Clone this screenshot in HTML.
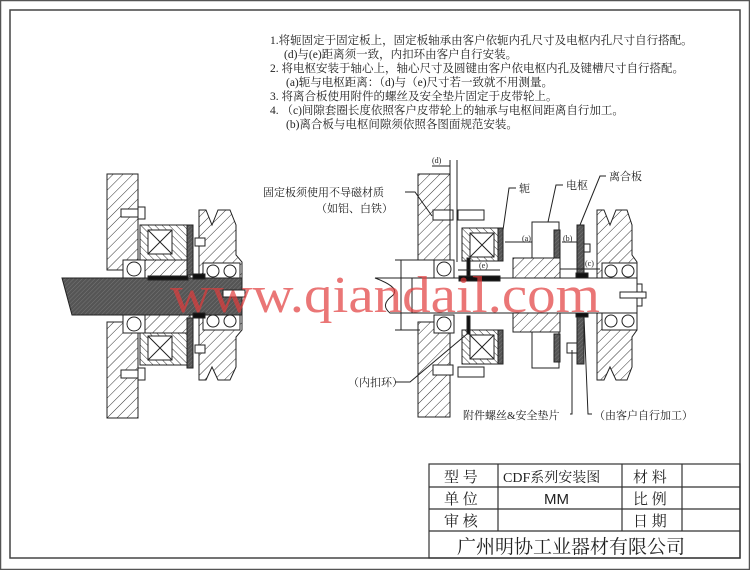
<!DOCTYPE html>
<html><head><meta charset="utf-8"><style>
html,body{margin:0;padding:0;background:#fff;}
svg{display:block}
text{font-family:"Liberation Serif","Noto Serif CJK SC","Noto Sans CJK SC",serif;fill:#222}
</style></head><body>
<svg width="750" height="570" viewBox="0 0 750 570" xmlns="http://www.w3.org/2000/svg">
<defs>
<pattern id="h" width="7" height="7" patternUnits="userSpaceOnUse" patternTransform="rotate(45)">
<rect width="7" height="7" fill="#fff"/><line x1="0" y1="0" x2="0" y2="7" stroke="#333" stroke-width="1"/></pattern>
<pattern id="h2" width="5" height="5" patternUnits="userSpaceOnUse" patternTransform="rotate(-45)">
<rect width="5" height="5" fill="#fff"/><line x1="0" y1="0" x2="0" y2="5" stroke="#333" stroke-width="1"/></pattern>
<pattern id="hd" width="3" height="3" patternUnits="userSpaceOnUse" patternTransform="rotate(45)">
<rect width="3" height="3" fill="#555"/><line x1="0" y1="0" x2="0" y2="3" stroke="#777" stroke-width="1"/></pattern>
</defs>
<rect x="0.5" y="0.5" width="749" height="569" fill="none" stroke="#555" stroke-width="1.5"/>
<rect x="10" y="10" width="730" height="548" fill="none" stroke="#444" stroke-width="1.5"/>

<!-- notes -->
<g font-size="11.5">
<text x="270" y="44">1.将轭固定于固定板上，固定板轴承由客户依轭内孔尺寸及电枢内孔尺寸自行搭配。</text>
<text x="284" y="58">(d)与(e)距离须一致，内扣环由客户自行安装。</text>
<text x="270" y="72">2. 将电枢安装于轴心上，轴心尺寸及圆键由客户依电枢内孔及键槽尺寸自行搭配。</text>
<text x="286" y="86">(a)轭与电枢距离：（d)与（e)尺寸若一致就不用测量。</text>
<text x="270" y="100">3. 将离合板使用附件的螺丝及安全垫片固定于皮带轮上。</text>
<text x="270" y="114">4. （c)间隙套圈长度依照客户皮带轮上的轴承与电枢间距离自行加工。</text>
<text x="286" y="128">(b)离合板与电枢间隙须依照各图面规范安装。</text>
</g>

<g stroke="#222" stroke-width="1">
<!-- LEFT DRAWING -->
<rect x="107" y="174" width="31" height="96" fill="url(#h)"/>
<rect x="107" y="322" width="31" height="96" fill="url(#h)"/>
<rect x="121" y="209" width="22" height="8" fill="#fff"/><rect x="138" y="207" width="7" height="12" fill="#fff"/>
<rect x="121" y="370" width="22" height="8" fill="#fff"/><rect x="138" y="368" width="7" height="12" fill="#fff"/>
<rect x="140" y="225" width="50" height="35" fill="url(#h2)"/>
<rect x="148" y="230" width="24" height="24" fill="#fff"/><path d="M148 230L172 254M172 230L148 254" fill="none"/>
<rect x="140" y="330" width="50" height="35" fill="url(#h2)"/>
<rect x="148" y="336" width="24" height="24" fill="#fff"/><path d="M148 336L172 360M172 336L148 360" fill="none"/>
<rect x="145" y="260" width="45" height="18" fill="url(#h)"/>
<rect x="145" y="315" width="45" height="18" fill="url(#h)"/>
<rect x="123" y="260" width="22" height="18" fill="#fff"/><circle cx="134" cy="269" r="7" fill="#fff"/>
<rect x="123" y="315" width="22" height="18" fill="#fff"/><circle cx="134" cy="324" r="7" fill="#fff"/>
<rect x="187" y="225" width="6" height="50" fill="url(#hd)"/>
<rect x="187" y="318" width="6" height="50" fill="url(#hd)"/>
<path d="M199 210 L206 210 L212 225 L218 210 L230 210 L236 225 L236 255 L242 262 L242 330 L236 337 L236 367 L230 380 L218 380 L212 367 L206 380 L199 380 Z" fill="url(#h)"/>
<rect x="203" y="263" width="37" height="17" fill="#fff"/><circle cx="213" cy="271" r="6" fill="#fff"/><circle cx="230" cy="271" r="6" fill="#fff"/>
<rect x="203" y="313" width="37" height="17" fill="#fff"/><circle cx="213" cy="321" r="6" fill="#fff"/><circle cx="230" cy="321" r="6" fill="#fff"/>
<rect x="195" y="238" width="10" height="8" fill="#fff"/><rect x="195" y="345" width="10" height="8" fill="#fff"/>
<path d="M62 278 L242 278 L242 315 L72 315 Z" fill="url(#hd)"/>
<rect x="148" y="276" width="40" height="4" fill="#111"/>
<rect x="193" y="274" width="12" height="5" fill="#111"/><rect x="193" y="313" width="12" height="5" fill="#111"/>
<rect x="223" y="290" width="22" height="7" fill="#fff"/>

<!-- RIGHT DRAWING -->
<rect x="418" y="174" width="32" height="86" fill="url(#h)"/>
<rect x="418" y="322" width="32" height="95" fill="url(#h)"/>
<rect x="433" y="210" width="20" height="10" fill="#fff"/>
<rect x="433" y="365" width="20" height="10" fill="#fff"/>
<line x1="450" y1="160" x2="450" y2="258" /><line x1="457" y1="160" x2="457" y2="262"/>
<rect x="434" y="260" width="20" height="18" fill="#fff"/><circle cx="444" cy="269" r="7" fill="#fff"/>
<rect x="434" y="315" width="20" height="18" fill="#fff"/><circle cx="444" cy="324" r="7" fill="#fff"/>
<rect x="458" y="210" width="26" height="10" fill="#fff"/><rect x="458" y="367" width="26" height="10" fill="#fff"/>
<rect x="462" y="228" width="41" height="33" fill="url(#h2)"/>
<rect x="470" y="233" width="24" height="24" fill="#fff"/><path d="M470 233L494 257M494 233L470 257" fill="none"/>
<rect x="498" y="228" width="5" height="33" fill="url(#hd)"/>
<rect x="462" y="330" width="41" height="34" fill="url(#h2)"/>
<rect x="470" y="335" width="24" height="24" fill="#fff"/><path d="M470 335L494 359M494 335L470 359" fill="none"/>
<rect x="498" y="330" width="5" height="34" fill="url(#hd)"/>
<rect x="467" y="258" width="3" height="18" fill="#111"/><rect x="467" y="316" width="3" height="18" fill="#111"/>
<rect x="532" y="222" width="27" height="40" fill="#fff"/>
<rect x="513" y="258" width="47" height="20" fill="url(#h)"/>
<rect x="532" y="330" width="27" height="38" fill="#fff"/>
<rect x="513" y="312" width="47" height="20" fill="url(#h)"/>
<rect x="554" y="230" width="6" height="28" fill="url(#hd)"/><rect x="554" y="334" width="6" height="28" fill="url(#hd)"/>
<rect x="577" y="225" width="7" height="52" fill="url(#hd)"/>
<rect x="577" y="314" width="7" height="50" fill="url(#hd)"/>
<rect x="576" y="273" width="12" height="6" fill="#111"/><rect x="576" y="311" width="12" height="6" fill="#111"/>
<rect x="567" y="343" width="10" height="10" fill="#fff"/><rect x="584" y="244" width="6" height="8" fill="#fff"/>
<path d="M597 210 L604 210 L610 225 L616 210 L627 210 L632 225 L632 255 L637 262 L637 330 L632 337 L632 367 L627 380 L616 380 L610 367 L604 380 L597 380 Z" fill="url(#h)"/>
<rect x="602" y="263" width="35" height="17" fill="#fff"/><circle cx="611" cy="271" r="6" fill="#fff"/><circle cx="628" cy="271" r="6" fill="#fff"/>
<rect x="602" y="313" width="35" height="17" fill="#fff"/><circle cx="611" cy="321" r="6" fill="#fff"/><circle cx="628" cy="321" r="6" fill="#fff"/>
<path d="M375 278 L637 278 L637 313 L390 313 Q380 305 392 296 Q402 288 375 278 Z" fill="#fff"/>
<rect x="459" y="276" width="41" height="5" fill="#111"/>
<rect x="637" y="284" width="5" height="22" fill="#fff"/><rect x="620" y="292" width="26" height="6" fill="#fff"/>
<!-- dims -->
<line x1="401" y1="260" x2="401" y2="330"/><line x1="412" y1="278" x2="412" y2="313"/>
<line x1="395" y1="260" x2="420" y2="260"/><line x1="395" y1="330" x2="420" y2="330"/>
<line x1="505" y1="242" x2="532" y2="242"/><line x1="562" y1="242" x2="577" y2="242"/>
<line x1="560" y1="269" x2="600" y2="269"/><line x1="458" y1="270" x2="500" y2="270"/>
<line x1="432" y1="166" x2="450" y2="166"/>
<!-- leaders -->
<path d="M405 192 L415 192 L432 216" fill="none"/>
<path d="M516 188 L509 188 L503 230" fill="none"/>
<path d="M563 185 L556 185 L548 222" fill="none"/>
<path d="M606 176 L600 176 L580 225" fill="none"/>
<path d="M395 382 L410 382 L467 334" fill="none"/>
<path d="M570 414 L572 414 L572 350" fill="none"/>
<path d="M592 414 L588 414 L584 317" fill="none"/>
</g>
<g font-size="11">
<text x="263" y="196">固定板须使用不导磁材质</text>
<text x="316" y="212">（如铝、白铁）</text>
<text x="519" y="192">轭</text>
<text x="566" y="189">电枢</text>
<text x="609" y="180">离合板</text>
<text x="348" y="386">（内扣环）</text>
<text x="463" y="419">附件螺丝&amp;安全垫片</text>
<text x="594" y="419">（由客户自行加工）</text>
</g>
<g font-size="8" style="font-family:'Liberation Sans',sans-serif">
<text x="432" y="163">(d)</text><text x="522" y="241">(a)</text><text x="563" y="241">(b)</text>
<text x="585" y="266">(c)</text><text x="479" y="268">(e)</text>
</g>

<!-- watermark -->
<text x="170" y="312" font-size="52" textLength="430" lengthAdjust="spacingAndGlyphs" style="fill:rgba(225,60,60,0.7)">www.qiandail.com</text>

<!-- title block -->
<g stroke="#333" stroke-width="1.2" fill="none">
<rect x="429" y="464" width="311" height="94"/>
<line x1="429" y1="487" x2="740" y2="487"/><line x1="429" y1="509" x2="740" y2="509"/><line x1="429" y1="531" x2="740" y2="531"/>
<line x1="498" y1="464" x2="498" y2="531"/><line x1="622" y1="464" x2="622" y2="531"/><line x1="682" y1="464" x2="682" y2="531"/>
</g>
<g font-size="15">
<text x="444" y="482">型 号</text><text x="444" y="504">单 位</text><text x="444" y="526">审 核</text>
<text x="503" y="482" font-size="14">CDF系列安装图</text>
<text x="544" y="504" font-size="15" style="font-family:'Liberation Sans',sans-serif">MM</text>
<text x="633" y="482">材 料</text><text x="633" y="504">比 例</text><text x="633" y="526">日 期</text>
<text x="457" y="553" font-size="19">广州明协工业器材有限公司</text>
</g>
</svg>
</body></html>
